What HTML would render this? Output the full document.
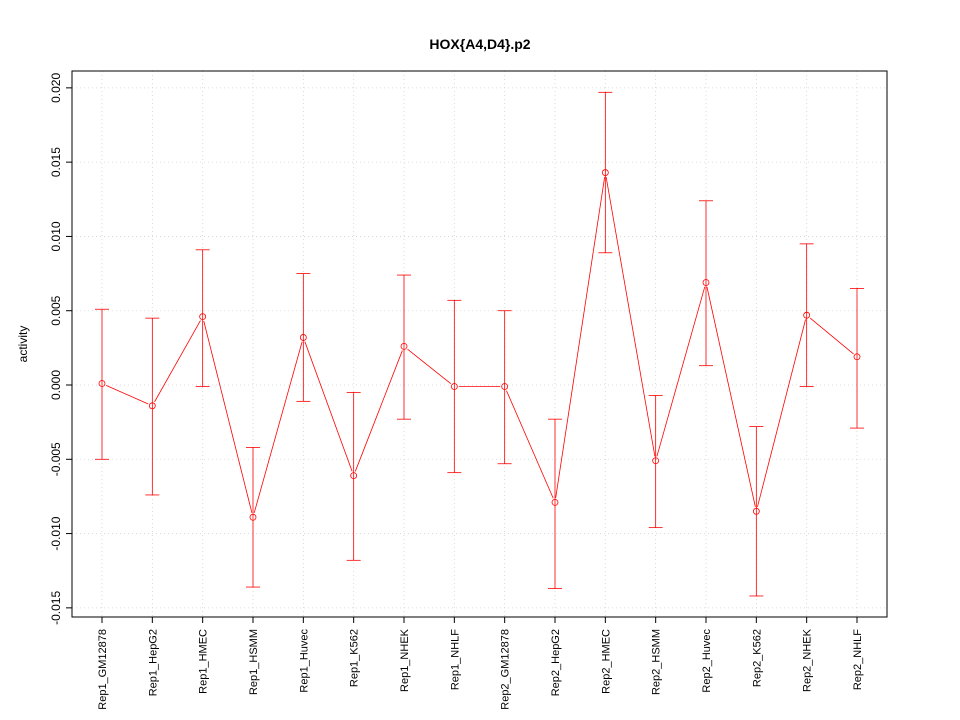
<!DOCTYPE html>
<html><head><meta charset="utf-8"><style>
body{margin:0;background:#fff;}
svg{display:block;font-family:"Liberation Sans",sans-serif;}
</style></head><body>
<svg id="chart" width="960" height="720"></svg>
<script>
const categories=["Rep1_GM12878","Rep1_HepG2","Rep1_HMEC","Rep1_HSMM","Rep1_Huvec","Rep1_K562","Rep1_NHEK","Rep1_NHLF","Rep2_GM12878","Rep2_HepG2","Rep2_HMEC","Rep2_HSMM","Rep2_Huvec","Rep2_K562","Rep2_NHEK","Rep2_NHLF"];
const values=[0.0001,-0.0014,0.0046,-0.0089,0.0032,-0.0061,0.0026,-0.0001,-0.0001,-0.0079,0.0143,-0.0051,0.0069,-0.0085,0.0047,0.0019];
const upper=[0.0051,0.0045,0.0091,-0.0042,0.0075,-0.0005,0.0074,0.0057,0.0050,-0.0023,0.0197,-0.0007,0.0124,-0.0028,0.0095,0.0065];
const lower=[-0.0050,-0.0074,-0.0001,-0.0136,-0.0011,-0.0118,-0.0023,-0.0059,-0.0053,-0.0137,0.0089,-0.0096,0.0013,-0.0142,-0.0001,-0.0029];
const yTicks=[-0.015,-0.010,-0.005,0.000,0.005,0.010,0.015,0.020];
const yTickLabels=["-0.015","-0.010","-0.005","0.000","0.005","0.010","0.015","0.020"];
const NS="http://www.w3.org/2000/svg";
const svg=document.getElementById('chart');
const L=72,R=887,T=71,B=617;
function ys(v){return 385-v*14857;}
function xs(i){return 102+i*(857-102)/(categories.length-1);}
function mk(tag,attrs,parent){const e=document.createElementNS(NS,tag);for(const k in attrs)e.setAttribute(k,attrs[k]);(parent||svg).appendChild(e);return e;}
yTicks.forEach(t=>{const g=mk('line',{x1:L,x2:R,y1:ys(t),y2:ys(t),stroke:'#d3d3d3','stroke-width':0.8,'stroke-dasharray':'1,3'});

});
categories.forEach((c,i)=>{const g=mk('line',{x1:xs(i),x2:xs(i),y1:T,y2:B,stroke:'#d3d3d3','stroke-width':0.8,'stroke-dasharray':'1,3'});

});
const frame=mk('rect',{x:L,y:T,width:R-L,height:B-T,fill:'none',stroke:'#000'});


yTicks.forEach((t,i)=>{mk('line',{x1:L-6,x2:L,y1:ys(t),y2:ys(t),stroke:'#000'});
const tx=mk('text',{x:L-12,y:ys(t),'font-size':12,'text-anchor':'middle',transform:`rotate(-90 ${L-12} ${ys(t)})`});
tx.textContent=yTickLabels[i];

});
const yt=mk('text',{x:27,y:344,'font-size':12,'text-anchor':'middle',transform:'rotate(-90 27 344)'});
yt.textContent='activity';


categories.forEach((c,i)=>{mk('line',{x1:xs(i),x2:xs(i),y1:B,y2:B+6,stroke:'#000'});
const tx=mk('text',{x:xs(i)+4,y:B+12,'font-size':11,'text-anchor':'end',transform:`rotate(-90 ${xs(i)+4} ${B+12})`});
tx.textContent=c;

});
const title=mk('text',{x:480,y:49,'font-size':14,'font-weight':'bold','text-anchor':'middle'});
title.textContent='HOX{A4,D4}.p2';


categories.forEach((c,i)=>{const x=xs(i);
const g=mk('g',{stroke:'#f00','stroke-width':0.8});


mk('line',{x1:x,x2:x,y1:ys(upper[i]),y2:ys(lower[i])},g);
mk('line',{x1:x-7,x2:x+7,y1:ys(upper[i]),y2:ys(upper[i])},g);
mk('line',{x1:x-7,x2:x+7,y1:ys(lower[i]),y2:ys(lower[i])},g);});
const lg=mk('g',{stroke:'#f00','stroke-width':0.8});


for(let i=0;i<values.length-1;i++){
  const x1=xs(i),y1=ys(values[i]),x2=xs(i+1),y2=ys(values[i+1]);
  const d=Math.hypot(x2-x1,y2-y1),g=4.5;
  if(d>2*g){const ux=(x2-x1)/d,uy=(y2-y1)/d;
  mk('line',{x1:x1+ux*g,y1:y1+uy*g,x2:x2-ux*g,y2:y2-uy*g},lg);}
}
values.forEach((v,i)=>{const p=mk('circle',{cx:xs(i),cy:ys(v),r:3,fill:'none',stroke:'#f00','stroke-width':0.8});

});
</script>
</body></html>
